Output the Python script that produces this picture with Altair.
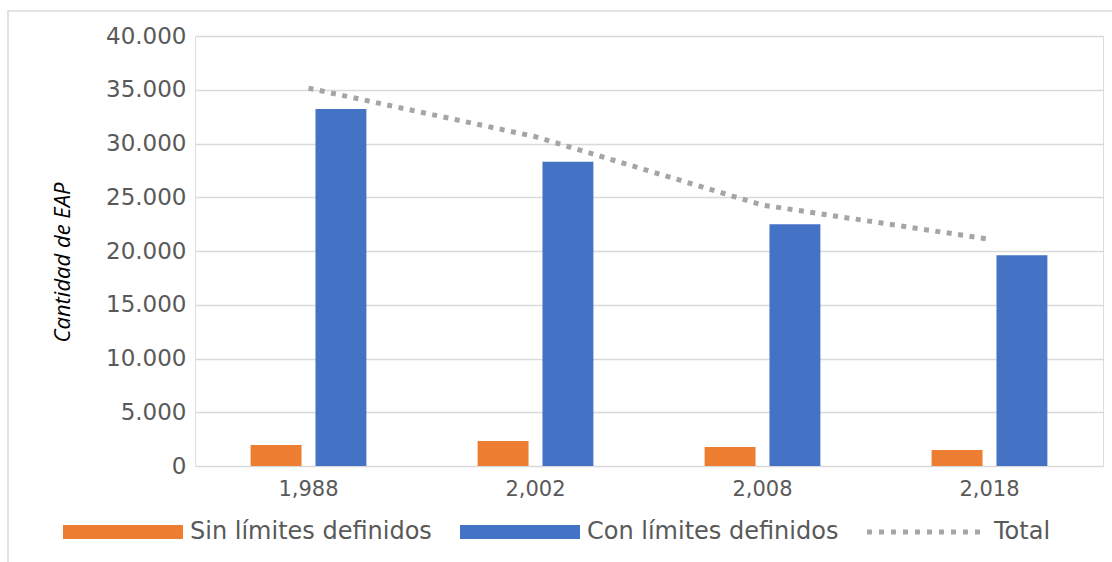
import altair as alt
import pandas as pd

# Years (as printed on the axis) and the number of EAP per category
anios = ["1,988", "2,002", "2,008", "2,018"]
sin_limites = [1950, 2330, 1770, 1490]
con_limites = [33200, 28300, 22500, 19600]
total = [35150, 30630, 24270, 21090]

series = ["Sin límites definidos", "Con límites definidos", "Total"]
colores = ["#ED7D31", "#4472C4", "#A5A5A5"]
ticks_y = [0, 5000, 10000, 15000, 20000, 25000, 30000, 35000, 40000]

FONT = "DejaVu Sans"
TEXT = "#595959"

barras_df = pd.DataFrame({
    "anio": anios * 2,
    "serie": [series[0]] * len(anios) + [series[1]] * len(anios),
    "valor": sin_limites + con_limites,
})
total_df = pd.DataFrame({"anio": anios, "serie": series[2], "valor": total})
leyenda_df = pd.DataFrame({"serie": series})

# legend swatches: wide bars for the columns, a row of squares for the dotted total
bar_swatch = "M-1,-0.1167H1V0.1167H-1Z"
sq = []
for i in range(10):
    x0 = -1 + 0.2 * i
    sq.append(f"M{x0:.3f},-0.042H{x0 + 0.083:.3f}V0.042H{x0:.3f}Z")
dot_swatch = "".join(sq)

color_scale = alt.Scale(domain=series, range=colores)
shape_scale = alt.Scale(domain=series, range=[bar_swatch, bar_swatch, dot_swatch])
x_scale = alt.Scale(domain=anios, paddingInner=0.49, paddingOuter=0.245)
y_scale = alt.Scale(domain=[0, 40000], nice=False)

x_axis = alt.Axis(title=None, labelAngle=0, domain=False, ticks=False, grid=False,
                  labelFont=FONT, labelFontSize=21, labelColor=TEXT, labelPadding=12)
y_axis = alt.Axis(title="Cantidad de EAP", values=ticks_y, domain=False, ticks=False,
                  grid=True, gridColor="#D9D9D9", gridWidth=1.5,
                  labelExpr="replace(format(datum.value, ',d'), ',', '.')",
                  labelFont=FONT, labelFontSize=23, labelColor=TEXT, labelPadding=9,
                  titleFont="Open Sans", titleFontSize=22, titleFontStyle="italic",
                  titleFontWeight="normal", titleColor="#000000",
                  titleAngle=270, titleBaseline="middle", titleX=-133, titleY=226)

legend_cfg = dict(
    title=None, orient="none", legendX=-132, legendY=436, direction="horizontal",
    symbolSize=14400, symbolStrokeWidth=0, symbolOpacity=1, labelFont=FONT,
    labelFontSize=24, labelColor=TEXT, labelOffset=7, labelLimit=0,
    columnPadding=28, padding=0,
)

barras = alt.Chart(barras_df).mark_bar().encode(
    x=alt.X("anio:N", scale=x_scale, axis=x_axis, sort=anios),
    xOffset=alt.XOffset("serie:N", scale=alt.Scale(domain=series[:2], paddingInner=0.215, paddingOuter=0)),
    y=alt.Y("valor:Q", scale=y_scale, axis=y_axis),
    color=alt.Color("serie:N", scale=color_scale, legend=alt.Legend(**legend_cfg)),
)

linea = alt.Chart(total_df).mark_line(
    stroke="#A5A5A5", strokeWidth=5, strokeDash=[5, 6.5], strokeCap="butt"
).encode(
    x=alt.X("anio:N", scale=x_scale, sort=anios),
    y=alt.Y("valor:Q", scale=y_scale),
)

leyenda = alt.Chart(leyenda_df).mark_point(filled=True, opacity=0).encode(
    color=alt.Color("serie:N", scale=color_scale, legend=alt.Legend(**legend_cfg)),
    shape=alt.Shape("serie:N", scale=shape_scale, legend=alt.Legend(**legend_cfg)),
)

# thin frame around the whole figure
marco = alt.Chart(alt.Data(values=[{}])).mark_rect(
    fill=None, stroke="#D9D9D9", strokeWidth=1.5
).encode(x=alt.value(-187), x2=alt.value(1300), y=alt.value(-25), y2=alt.value(800))

chart = alt.layer(marco, barras, linea, leyenda).properties(
    width=908, height=430,
    autosize=alt.AutoSizeParams(type="none"),
    padding={"left": 195, "top": 36, "right": 9, "bottom": 96},
).configure_view(stroke=None).configure(background="white")

chart.save("out.html", embed_options={"renderer": "svg", "actions": False})
